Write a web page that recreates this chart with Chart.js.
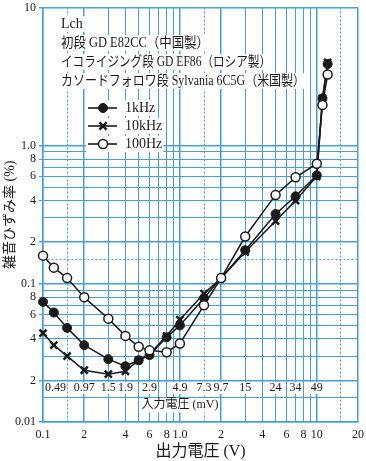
<!DOCTYPE html>
<html>
<head>
<meta charset="utf-8">
<script src="https://cdn.jsdelivr.net/npm/chart.js@4.4.1/dist/chart.umd.min.js"></script>
<style>
  html, body { margin: 0; padding: 0; background: #fff; }
</style>
</head>
<body>
<canvas id="thdChart" width="366" height="461"></canvas>
<script>
// output voltage (V) at each measured point
const outV = [0.1, 0.12, 0.15, 0.2, 0.3, 0.4, 0.5, 0.6, 0.8, 1, 1.5, 2, 3, 5, 7, 10, 11, 12];
// THD+N (%)
const thd1k   = [0.074, 0.062, 0.048, 0.036, 0.0285, 0.0253, 0.028, 0.0305, 0.041, 0.050, 0.079, 0.11, 0.175, 0.32, 0.43, 0.61, 2.2, 3.9];
const thd10k  = [0.044, 0.036, 0.030, 0.0237, 0.0222, 0.0233, 0.028, 0.031, 0.042, 0.055, 0.085, 0.11, 0.17, 0.285, 0.40, 0.60, 2.2, 4.0];
const thd100  = [0.16, 0.131, 0.11, 0.080, 0.056, 0.042, 0.035, 0.033, 0.032, 0.037, 0.070, 0.11, 0.22, 0.44, 0.59, 0.74, 1.97, 3.27];

// input voltage (mV) row, placed at these output voltages
const inputMv = ['0.49', '0.97', '1.5', '1.9', '2.9', '4.9', '7.3', '9.7', '15', '24', '34', '49'];
const inputAt = [0.1, 0.2, 0.3, 0.4, 0.6, 1, 1.5, 2, 3, 5, 7, 10];

// tick labels
const xLabelAt   = [0.1, 0.2, 0.4, 0.6, 0.8, 1, 2, 4, 6, 8, 10, 20];
const xLabelText = ['0.1', '2', '4', '6', '8', '1.0', '2', '4', '6', '8', '10', '20'];
const yLabelAt   = [0.01, 0.02, 0.04, 0.06, 0.08, 0.1, 0.2, 0.4, 0.6, 0.8, 1, 2, 4, 6, 8, 10];
const yLabelText = ['0.01', '2', '4', '6', '8', '0.1', '2', '4', '6', '8', '1.0', '2', '4', '6', '8', '10'];

const noteLines = ['Lch', '初段 GD E82CC（中国製）', 'イコライジング段 GD EF86（ロシア製）', 'カソードフォロワ段 Sylvania 6C5G（米国製）'];
const noteWidths = [30, 148, 210, 244];

const gridBlue = '#42a0dc';
const ink = '#1a1a1a';
const serif = '"Liberation Serif", "DejaVu Serif", "Noto Sans CJK JP", serif';

const same = (a, b) => Math.abs(a - b) / b < 1e-6;

function decadeTicks(lo, hi, extra) {
  const out = [];
  for (let d = lo; d < hi * 0.999; d *= 10) {
    [1, 1.5, 2, 3, 4, 5, 6, 7, 8, 9].forEach(m => out.push(+(d * m).toPrecision(3)));
  }
  out.push(hi);
  return out.concat(extra || []).sort((a, b) => a - b);
}
const xGrid = decadeTicks(0.1, 10, [15, 20]);
const yGrid = decadeTicks(0.01, 1, [10]);

function isHalf(v) {
  const m = v / Math.pow(10, Math.floor(Math.log10(v) + 1e-9));
  return Math.abs(m - 1.5) < 1e-6;
}
function isMajor(v) {
  const m = v / Math.pow(10, Math.floor(Math.log10(v) + 1e-9));
  return Math.abs(m - 1) < 1e-6 || Math.abs(m - 2) < 1e-6;
}

function pts(ys) {
  return outV.map((x, i) => ({ x: x, y: ys[i] }));
}

const notesPlugin = {
  id: 'notes',
  beforeDatasetsDraw(chart) {
    const { ctx, chartArea: a, scales: { x, y } } = chart;
    ctx.save();
    ctx.textBaseline = 'middle';

    // header lines
    ctx.font = '14px ' + serif;
    noteLines.forEach((t, i) => {
      const ty = a.top + 16.5 + i * 19;
      const w = Math.min(ctx.measureText(t).width, noteWidths[i]);
      ctx.fillStyle = '#fff';
      ctx.fillRect(a.left + 16, ty - 8, w + 4, 16);
      ctx.fillStyle = ink;
      ctx.textAlign = 'left';
      ctx.fillText(t, a.left + 18, ty, noteWidths[i]);
    });

    // legend
    const metas = [chart.getDatasetMeta(1), chart.getDatasetMeta(2), chart.getDatasetMeta(0)];
    metas.forEach((meta, i) => {
      const ds = chart.data.datasets[meta.index];
      const ly = a.top + 100.5 + i * 18;
      const x0 = a.left + 45;
      ctx.font = '14px ' + serif;
      const tw = ctx.measureText(ds.label).width;
      ctx.fillStyle = '#fff';
      ctx.fillRect(x0 - 2, ly - 8, 40 + tw, 16);
      ctx.strokeStyle = ink;
      ctx.lineWidth = 1.6;
      ctx.beginPath();
      ctx.moveTo(x0, ly);
      ctx.lineTo(x0 + 29, ly);
      ctx.stroke();
      ctx.fillStyle = ds.pointBackgroundColor;
      ctx.strokeStyle = ink;
      ctx.lineWidth = ds.pointBorderWidth;
      Chart.helpers.drawPoint(ctx, {
        pointStyle: ds.pointStyle, radius: ds.pointRadius, rotation: 0, borderWidth: ds.pointBorderWidth
      }, x0 + 15, ly);
      ctx.fillStyle = ink;
      ctx.textAlign = 'left';
      ctx.fillText(ds.label, x0 + 37, ly);
    });

    // input voltage row
    ctx.font = '12px ' + serif;
    const ry = y.getPixelForValue(0.0176);
    inputMv.forEach((t, i) => {
      let px = x.getPixelForValue(inputAt[i]);
      const w = ctx.measureText(t).width;
      let left = px - w / 2;
      if (left < a.left + 2) left = a.left + 2;
      ctx.fillStyle = '#fff';
      ctx.fillRect(left - 1, ry - 6, w + 2, 12);
      ctx.fillStyle = ink;
      ctx.textAlign = 'left';
      ctx.fillText(t, left, ry);
    });
    const cap = '入力電圧 (mV)';
    ctx.font = '12px ' + serif;
    const cw = ctx.measureText(cap).width;
    const cx = x.getPixelForValue(1);
    const cy = y.getPixelForValue(0.0132);
    ctx.fillStyle = '#fff';
    ctx.fillRect(cx - cw / 2 - 1, cy - 7, cw + 2, 14);
    ctx.fillStyle = ink;
    ctx.textAlign = 'center';
    ctx.fillText(cap, cx, cy);
    ctx.restore();
  }
};

const ctx = document.getElementById('thdChart').getContext('2d');
const thdChart = new Chart(ctx, {
  type: 'line',
  data: {
    datasets: [
      {
        label: '100Hz',
        data: pts(thd100),
        borderColor: ink,
        borderWidth: 1.5,
        pointStyle: 'circle',
        pointRadius: 4.5,
        pointBorderWidth: 1.5,
        pointBorderColor: ink,
        pointBackgroundColor: '#fff',
        clip: false
      },
      {
        label: '1kHz',
        data: pts(thd1k),
        borderColor: ink,
        borderWidth: 1.5,
        pointStyle: 'circle',
        pointRadius: 4.5,
        pointBorderWidth: 1,
        pointBorderColor: ink,
        pointBackgroundColor: ink,
        clip: false
      },
      {
        label: '10kHz',
        data: pts(thd10k),
        borderColor: ink,
        borderWidth: 1.5,
        pointStyle: 'crossRot',
        pointRadius: 5,
        pointBorderWidth: 2.5,
        pointBorderColor: ink,
        pointBackgroundColor: ink,
        clip: false
      }
    ]
  },
  options: {
    responsive: false,
    animation: false,
    layout: { padding: { top: 6.5, right: 8, left: 0, bottom: 0 } },
    plugins: {
      legend: { display: false },
      tooltip: { enabled: false }
    },
    elements: { line: { tension: 0 } },
    scales: {
      x: {
        type: 'logarithmic',
        min: 0.1,
        max: 20,
        afterBuildTicks: s => { s.ticks = xGrid.map(v => ({ value: v })); },
        afterFit: s => { s.height = 39; s.paddingLeft = 0; s.paddingRight = 0; },
        ticks: {
          autoSkip: false,
          maxRotation: 0,
          padding: 6,
          color: ink,
          font: { family: serif, size: 12 },
          callback: v => {
            const i = xLabelAt.findIndex(t => same(v, t));
            return i < 0 ? '' : xLabelText[i];
          }
        },
        grid: {
          color: gridBlue,
          drawTicks: false,
          lineWidth: c => (c.tick && isMajor(c.tick.value)) ? 1.5 : 1
        },
        border: {
          color: gridBlue,
          width: 1.5,
          dash: c => (c.tick && isHalf(c.tick.value)) ? [2, 2] : []
        },
        title: {
          display: true,
          text: '出力電圧 (V)',
          color: ink,
          font: { family: serif, size: 16 },
          padding: 0
        }
      },
      y: {
        type: 'logarithmic',
        min: 0.01,
        max: 10,
        afterBuildTicks: s => { s.ticks = yGrid.map(v => ({ value: v })); },
        afterFit: s => { s.width = 43; s.paddingTop = 0; s.paddingBottom = 0; },
        ticks: {
          autoSkip: false,
          padding: 3,
          color: ink,
          font: { family: serif, size: 12 },
          callback: v => {
            const i = yLabelAt.findIndex(t => same(v, t));
            return i < 0 ? '' : yLabelText[i];
          }
        },
        grid: {
          color: gridBlue,
          tickLength: 4,
          tickColor: c => (c.tick && yLabelAt.some(t => same(c.tick.value, t))) ? gridBlue : 'rgba(0,0,0,0)',
          lineWidth: c => (c.tick && isMajor(c.tick.value)) ? 1.5 : 1
        },
        border: {
          color: gridBlue,
          width: 1.5,
          dash: c => (c.tick && isHalf(c.tick.value) && !same(c.tick.value, 0.015)) ? [2, 2] : []
        },
        title: {
          display: true,
          text: '雑音ひずみ率 (%)',
          color: ink,
          font: { family: serif, size: 14 },
          padding: { top: 2, bottom: 0 }
        }
      }
    }
  },
  plugins: [notesPlugin]
});
</script>
</body>
</html>
